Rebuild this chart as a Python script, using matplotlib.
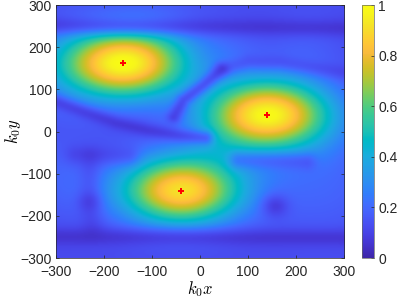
import numpy as np
import matplotlib
matplotlib.use("Agg")
import matplotlib.pyplot as plt

# peaks (red crosses) and their spot sizes
peak_x = [-160, 140, -40]
peak_y = [162, 40, -140]
peak_amp = [0.88, 0.88, 0.82]
peak_sx = [90, 90, 88]
peak_sy = [57, 58, 56]

# broad background level and lighter patches
bg_level = 0.12
patch_x = [-300, 250, 220, -290, 40, -80, 60]
patch_y = [150, -120, 210, -110, -20, 230, 200]
patch_amp = [0.07, 0.08, 0.05, 0.07, 0.04, 0.04, 0.05]
patch_s = [80, 90, 60, 70, 60, 70, 50]

# dark interference lines: points, width, depth
dark_lines = [
    ([(-300, 253), (0, 250), (300, 246)], 22, 0.55),
    ([(-300, -250), (0, -252), (300, -253)], 22, 0.55),
    ([(-300, 70), (-240, 45), (-175, 20), (-110, 3), (-40, -10), (10, -15)], 17, 0.55),
    ([(-55, 35), (-35, 75), (6, 110), (45, 148)], 16, 0.6),
    ([(45, 148), (100, 166), (167, 165), (302, 140)], 18, 0.35),
    ([(-260, -55), (-150, -58)], 24, 0.35),
    ([(80, -68), (220, -72)], 22, 0.4),
    ([(-230, -60), (-232, -167), (-225, -230)], 24, 0.3),
]
dark_spots = [(-231, -167, 24, 0.4), (156, -177, 28, 0.6)]

parula = [
    [0.2422, 0.1504, 0.6603], [0.2578, 0.1818, 0.7511], [0.2706, 0.2147, 0.8364],
    [0.2783, 0.2559, 0.8991], [0.2813, 0.3006, 0.9414], [0.2795, 0.3447, 0.9717],
    [0.2699, 0.3892, 0.9906], [0.2440, 0.4358, 0.9988], [0.1963, 0.4847, 0.9892],
    [0.1786, 0.5289, 0.9682], [0.1687, 0.5703, 0.9359], [0.1460, 0.6091, 0.9079],
    [0.1248, 0.6459, 0.8883], [0.0952, 0.6798, 0.8598], [0.0297, 0.7082, 0.8163],
    [0.0067, 0.7312, 0.7660], [0.0964, 0.7500, 0.7120], [0.1717, 0.7670, 0.6554],
    [0.2161, 0.7843, 0.5923], [0.2906, 0.7973, 0.5188], [0.3909, 0.8029, 0.4354],
    [0.5044, 0.7993, 0.3480], [0.6174, 0.7876, 0.2612], [0.7242, 0.7698, 0.1910],
    [0.8203, 0.7498, 0.1535], [0.9035, 0.7330, 0.1774], [0.9728, 0.7298, 0.2394],
    [0.9970, 0.7659, 0.2199], [0.9892, 0.8136, 0.1885], [0.9676, 0.8639, 0.1643],
    [0.9597, 0.9135, 0.1423], [0.9691, 0.9606, 0.1064], [0.9769, 0.9839, 0.0805],
]
cmap = matplotlib.colors.LinearSegmentedColormap.from_list("parula", parula, N=256)


def seg_dist(X, Y, pts):
    d = np.full(X.shape, 1e9)
    for (x1, y1), (x2, y2) in zip(pts[:-1], pts[1:]):
        dx, dy = x2 - x1, y2 - y1
        t = ((X - x1) * dx + (Y - y1) * dy) / (dx * dx + dy * dy)
        t = np.clip(t, 0, 1)
        d = np.minimum(d, np.hypot(X - (x1 + t * dx), Y - (y1 + t * dy)))
    return d


x = np.linspace(-300, 300, 401)
y = np.linspace(-300, 300, 401)
X, Y = np.meshgrid(x, y)

I = np.full(X.shape, bg_level)
for px, py, a, s in zip(patch_x, patch_y, patch_amp, patch_s):
    I += a * np.exp(-((X - px) ** 2 + (Y - py) ** 2) / (2 * s ** 2))
for px, py, a, sx, sy in zip(peak_x, peak_y, peak_amp, peak_sx, peak_sy):
    I += a * np.exp(-(X - px) ** 2 / (2 * sx ** 2) - (Y - py) ** 2 / (2 * sy ** 2))
for pts, w, depth in dark_lines:
    I *= 1 - depth * np.exp(-(seg_dist(X, Y, pts) / w) ** 2)
for sx_, sy_, w, depth in dark_spots:
    I *= 1 - depth * np.exp(-((X - sx_) ** 2 + (Y - sy_) ** 2) / w ** 2)
I = I / I.max()

plt.rcParams['font.family'] = ['Liberation Sans', 'DejaVu Sans']
plt.rcParams['mathtext.fontset'] = 'cm'

fig = plt.figure(figsize=(3.99, 3.0), dpi=100)
ax = fig.add_axes([0.140, 0.140, 0.722, 0.843])
im = ax.imshow(I, extent=[-300, 300, -300, 300], origin='lower', cmap=cmap,
               vmin=0, vmax=1, aspect='auto', interpolation='bilinear')
ax.plot(peak_x, peak_y, '+', color='red', ms=4.5, mew=1.4)
ax.set_xlim(-300, 300)
ax.set_ylim(-300, 300)
ax.set_xticks(np.arange(-300, 301, 100))
ax.set_yticks(np.arange(-300, 301, 100))
ax.tick_params(direction='in', length=2.5, width=0.5, labelsize=10, colors='0.15',
               top=True, right=True, pad=3)
ax.tick_params(axis='x', pad=5)
for sp in ax.spines.values():
    sp.set_linewidth(0.5)
    sp.set_color('0.15')
ax.set_xlabel('$k_0x$', fontsize=12, labelpad=0)
ax.set_ylabel('$k_0y$', fontsize=12, labelpad=-2)

cax = fig.add_axes([0.908, 0.140, 0.029, 0.843])
cb = fig.colorbar(im, cax=cax)
cb.set_ticks([0, 0.2, 0.4, 0.6, 0.8, 1])
cb.set_ticklabels(['0', '0.2', '0.4', '0.6', '0.8', '1'])
cb.ax.tick_params(direction='in', length=2, width=0.5, labelsize=10, colors='0.15', pad=3)
cb.outline.set_linewidth(0.5)
cb.outline.set_edgecolor('0.4')

fig.savefig('out.png', dpi=100)
